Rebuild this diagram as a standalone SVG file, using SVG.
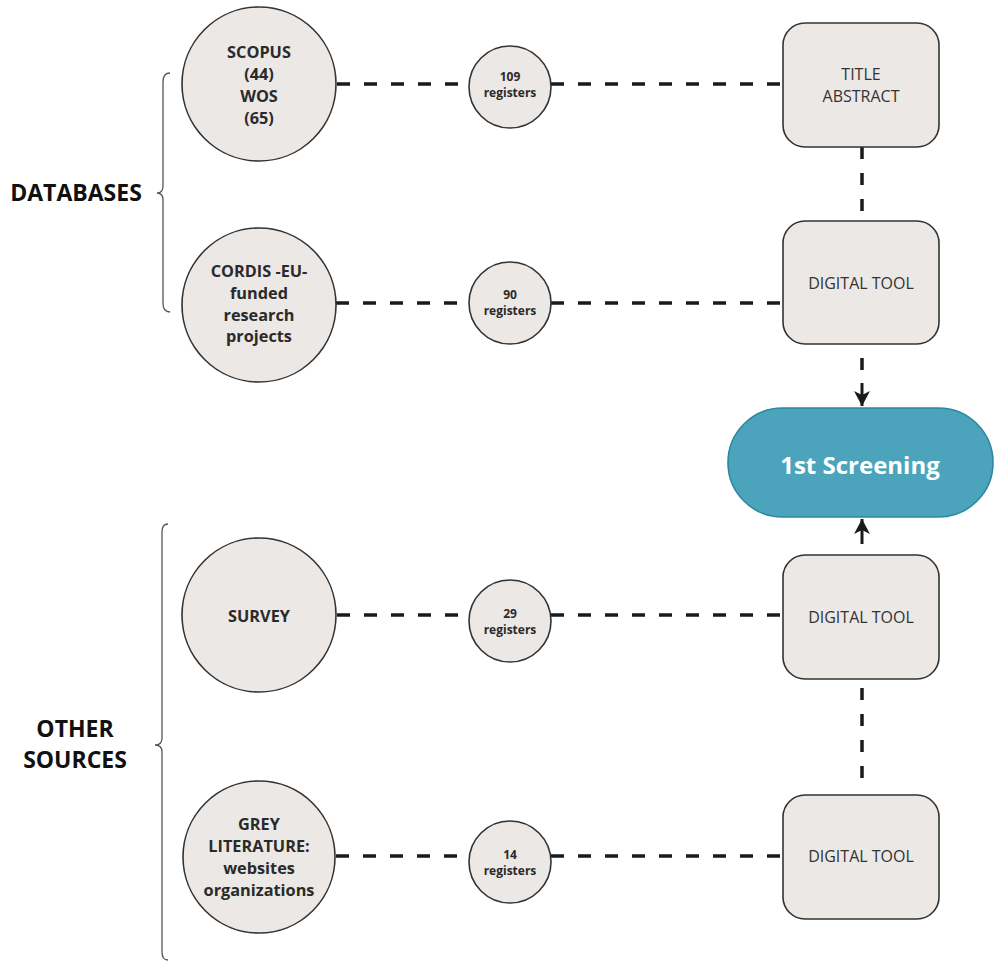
<svg xmlns="http://www.w3.org/2000/svg" width="995" height="962" viewBox="0 0 995 962">
<defs>
<marker id="arr" markerUnits="userSpaceOnUse" markerWidth="15" markerHeight="18" viewBox="0 0 15 18" refX="15" refY="9" orient="auto">
<path d="M0,1 L15,9 L0,17 L4,9 z" fill="#1a1a1a"/>
</marker>
<style>
.big{fill:#ebe8e6;stroke:#333;stroke-width:1.6}
.small{fill:#ebe8e6;stroke:#333;stroke-width:1.6}
.box{fill:#ebe8e6;stroke:#333;stroke-width:1.6}
.dash{stroke:#1a1a1a;stroke-width:3.5;stroke-dasharray:13 14;fill:none}
.vdash{stroke:#1a1a1a;stroke-width:3.5;stroke-dasharray:12 14;fill:none}
.solid{stroke:#1a1a1a;stroke-width:3;fill:none}
.brace{stroke:#555;stroke-width:1.3;fill:none}
.bt{font-family:"Open Sans","Liberation Sans",sans-serif;font-weight:700;font-size:16.3px;fill:#2a2a2a;text-anchor:middle}
.st{font-family:"Open Sans","Liberation Sans",sans-serif;font-weight:700;font-size:12px;fill:#2a2a2a;text-anchor:middle}
.xt{font-family:"Open Sans","Liberation Sans",sans-serif;font-weight:400;font-size:16px;fill:#333;text-anchor:middle}
.lab{font-family:"Open Sans","Liberation Sans",sans-serif;font-weight:700;font-size:23px;fill:#111;text-anchor:middle}
</style>
</defs>
<rect width="995" height="962" fill="#fff"/>

<g id="connectors">
<line class="dash" x1="337" y1="84" x2="469" y2="84"/>
<line class="dash" x1="551" y1="84" x2="783" y2="84"/>
<line class="dash" x1="336" y1="303" x2="469" y2="303"/>
<line class="dash" x1="551" y1="303" x2="783" y2="303"/>
<line class="dash" x1="337" y1="615" x2="469" y2="615"/>
<line class="dash" x1="551" y1="615" x2="783" y2="615"/>
<line class="dash" x1="336" y1="856" x2="469" y2="856"/>
<line class="dash" x1="551" y1="856" x2="783" y2="856"/>
<line class="vdash" x1="862" y1="147" x2="862" y2="221"/>
<line class="vdash" x1="862" y1="688" x2="862" y2="790"/>
<line class="vdash" x1="862" y1="358" x2="862" y2="371"/>
<line class="solid" x1="862" y1="383" x2="862" y2="406" marker-end="url(#arr)"/>
<line class="solid" x1="862" y1="544" x2="862" y2="519" marker-end="url(#arr)"/>
</g>

<g id="brace-databases">
<path class="brace" d="M170,73 Q163,73 163,82 L163,186 Q163,193 157,193 Q163,193 163,200 L163,303 Q163,312 170,312"/>
<text class="lab" x="76" y="201">DATABASES</text>
</g>
<g id="brace-other">
<path class="brace" d="M168,524 Q162,524 162,532 L162,738 Q162,745 155,745 Q162,745 162,752 L162,952 Q162,960 168,960"/>
<text class="lab" x="75" y="737">OTHER</text>
<text class="lab" x="75" y="768">SOURCES</text>
</g>

<g id="scopus">
<circle class="big" cx="259" cy="84" r="77"/>
<text class="bt" x="259" y="58">SCOPUS</text>
<text class="bt" x="259" y="80">(44)</text>
<text class="bt" x="259" y="102">WOS</text>
<text class="bt" x="259" y="124">(65)</text>
</g>
<g id="cordis">
<circle class="big" cx="259" cy="305" r="77"/>
<text class="bt" x="259" y="277">CORDIS -EU-</text>
<text class="bt" x="259" y="299">funded</text>
<text class="bt" x="259" y="321">research</text>
<text class="bt" x="259" y="342">projects</text>
</g>
<g id="survey">
<circle class="big" cx="259" cy="615" r="77"/>
<text class="bt" x="259" y="622">SURVEY</text>
</g>
<g id="grey">
<circle class="big" cx="259" cy="857" r="76"/>
<text class="bt" x="259" y="830">GREY</text>
<text class="bt" x="259" y="852">LITERATURE:</text>
<text class="bt" x="259" y="874">websites</text>
<text class="bt" x="259" y="896">organizations</text>
</g>

<g id="reg109">
<circle class="small" cx="510" cy="87" r="41"/>
<text class="st" x="510" y="81">109</text>
<text class="st" x="510" y="97">registers</text>
</g>
<g id="reg90">
<circle class="small" cx="510" cy="303" r="41"/>
<text class="st" x="510" y="299">90</text>
<text class="st" x="510" y="315">registers</text>
</g>
<g id="reg29">
<circle class="small" cx="510" cy="621" r="41"/>
<text class="st" x="510" y="618">29</text>
<text class="st" x="510" y="634">registers</text>
</g>
<g id="reg14">
<circle class="small" cx="510" cy="862" r="41"/>
<text class="st" x="510" y="859">14</text>
<text class="st" x="510" y="875">registers</text>
</g>

<g id="title-abstract">
<rect class="box" x="783" y="23" width="156" height="124" rx="22"/>
<text class="xt" x="861" y="80">TITLE</text>
<text class="xt" x="861" y="102">ABSTRACT</text>
</g>
<g id="digital-tool-1">
<rect class="box" x="783" y="221" width="156" height="123" rx="22"/>
<text class="xt" x="861" y="289">DIGITAL TOOL</text>
</g>
<g id="screening">
<rect x="728" y="408" width="265" height="109" rx="54.5" fill="#4ba4bc" stroke="#2c88a1" stroke-width="1.6"/>
<text x="860" y="474" font-family="'Open Sans','Liberation Sans',sans-serif" font-weight="700" font-size="24" fill="#fff" text-anchor="middle">1st Screening</text>
</g>
<g id="digital-tool-2">
<rect class="box" x="783" y="555" width="156" height="124" rx="22"/>
<text class="xt" x="861" y="623">DIGITAL TOOL</text>
</g>
<g id="digital-tool-3">
<rect class="box" x="783" y="795" width="156" height="124" rx="22"/>
<text class="xt" x="861" y="862">DIGITAL TOOL</text>
</g>
</svg>
